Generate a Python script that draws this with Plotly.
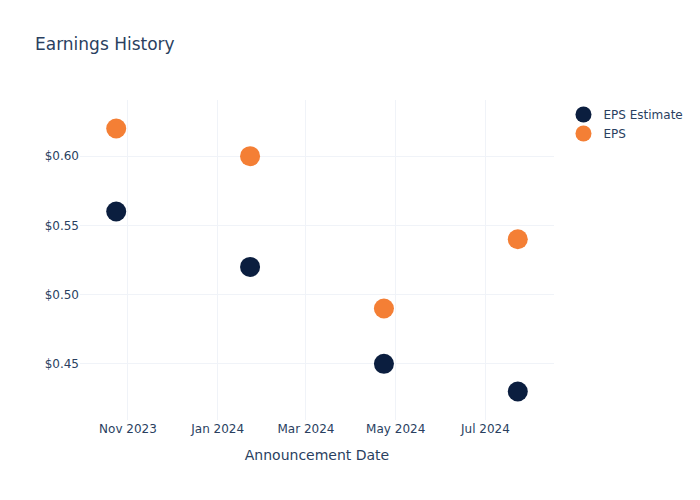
import plotly.graph_objects as go

dates = ["2023-10-24", "2024-01-23", "2024-04-23", "2024-07-23"]
eps_estimate = [0.56, 0.52, 0.45, 0.43]
eps_actual = [0.62, 0.60, 0.49, 0.54]

fig = go.Figure()
fig.add_trace(go.Scatter(x=dates, y=eps_estimate, mode="markers", name="EPS Estimate",
                         marker=dict(color="#0b1e3f", size=20)))
fig.add_trace(go.Scatter(x=dates, y=eps_actual, mode="markers", name="EPS",
                         marker=dict(color="#f47f35", size=20)))
fig.update_layout(
    template="plotly_white",
    width=700, height=500,
    font=dict(family="DejaVu Sans"),
    title=dict(text="Earnings History"),
    xaxis=dict(title=dict(text="Announcement Date"), tickformat="%b %Y", dtick="M2",
               gridcolor="#f0f3f8"),
    yaxis=dict(tickprefix="$", tickformat=".2f", gridcolor="#f0f3f8"),
)
fig.write_html("out.html")
